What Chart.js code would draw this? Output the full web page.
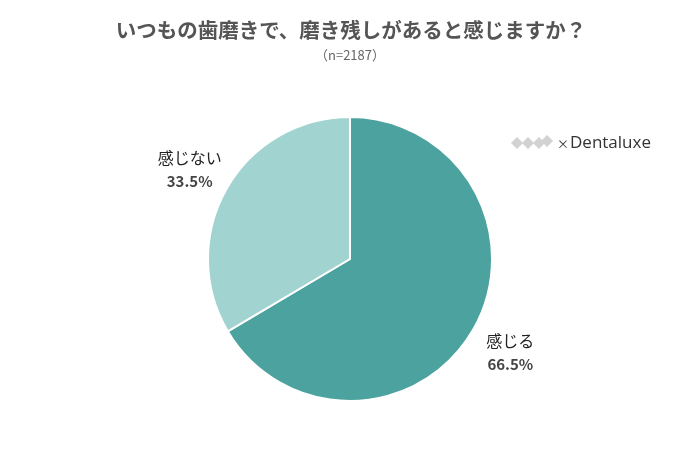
<!DOCTYPE html>
<html>
<head>
<meta charset="utf-8">
<script src="https://cdn.jsdelivr.net/npm/chart.js@4/dist/chart.umd.min.js"></script>
<style>
  html, body { margin: 0; padding: 0; background: #fff; }
  #wrap { width: 700px; height: 450px; }
</style>
</head>
<body>
<div id="wrap"><canvas id="c" width="700" height="450"></canvas></div>
<script>
const titleText = 'いつもの歯磨きで、磨き残しがあると感じますか？';
const subtitleText = '（n=2187）';
const categories = ['感じる', '感じない'];
const shares = [66.5, 33.5];
const sliceColors = ['#4ba29f', '#a1d3d1'];

const JP = '"Noto Sans CJK JP", "Noto Sans", sans-serif';

// Title, outside labels and logo drawn after the pie
const decorPlugin = {
  id: 'decor',
  afterDraw(chart) {
    const ctx = chart.ctx;
    ctx.save();
    ctx.textAlign = 'center';
    ctx.textBaseline = 'middle';
    ctx.fillStyle = '#555555';
    ctx.font = 'bold 20.5px ' + JP;
    ctx.fillText(titleText, 351, 30);
    ctx.fillStyle = '#666666';
    ctx.font = '13px ' + JP;
    ctx.fillText(subtitleText, 350, 55);

    // labels placed along each slice's mid angle
    const meta = chart.getDatasetMeta(0);
    meta.data.forEach((arc, i) => {
      const mid = (arc.startAngle + arc.endAngle) / 2;
      const r = arc.outerRadius * 1.3;
      const x = arc.x + Math.cos(mid) * r;
      const y = arc.y + Math.sin(mid) * r;
      ctx.fillStyle = '#222222';
      ctx.font = '16px ' + JP;
      ctx.fillText(categories[i], x, y - 10);
      ctx.fillStyle = '#444444';
      ctx.font = 'bold 15px ' + JP;
      ctx.fillText(shares[i].toFixed(1) + '%', x, y + 14);
    });

    // logo: soft grey marks + text
    ctx.fillStyle = '#d2d2d2';
    [[517, 143], [528, 143], [539, 143], [547, 141]].forEach(([cx, cy]) => {
      ctx.beginPath();
      ctx.moveTo(cx, cy - 6); ctx.lineTo(cx + 6, cy); ctx.lineTo(cx, cy + 6); ctx.lineTo(cx - 6, cy);
      ctx.closePath();
      ctx.fill();
    });
    ctx.textAlign = 'left';
    ctx.fillStyle = '#333333';
    ctx.font = '12px ' + JP;
    ctx.fillText('×', 557, 144);
    ctx.font = '17px "Open Sans", sans-serif';
    ctx.fillText('Dentaluxe', 570, 143);
    ctx.restore();
  }
};

new Chart(document.getElementById('c'), {
  type: 'pie',
  data: {
    labels: categories,
    datasets: [{
      data: shares,
      backgroundColor: sliceColors,
      borderColor: '#ffffff',
      borderWidth: 2
    }]
  },
  options: {
    responsive: false,
    animation: false,
    layout: { padding: { top: 116, bottom: 48, left: 207, right: 207 } },
    plugins: {
      legend: { display: false },
      tooltip: { enabled: false }
    }
  },
  plugins: [decorPlugin]
});
</script>
</body>
</html>
